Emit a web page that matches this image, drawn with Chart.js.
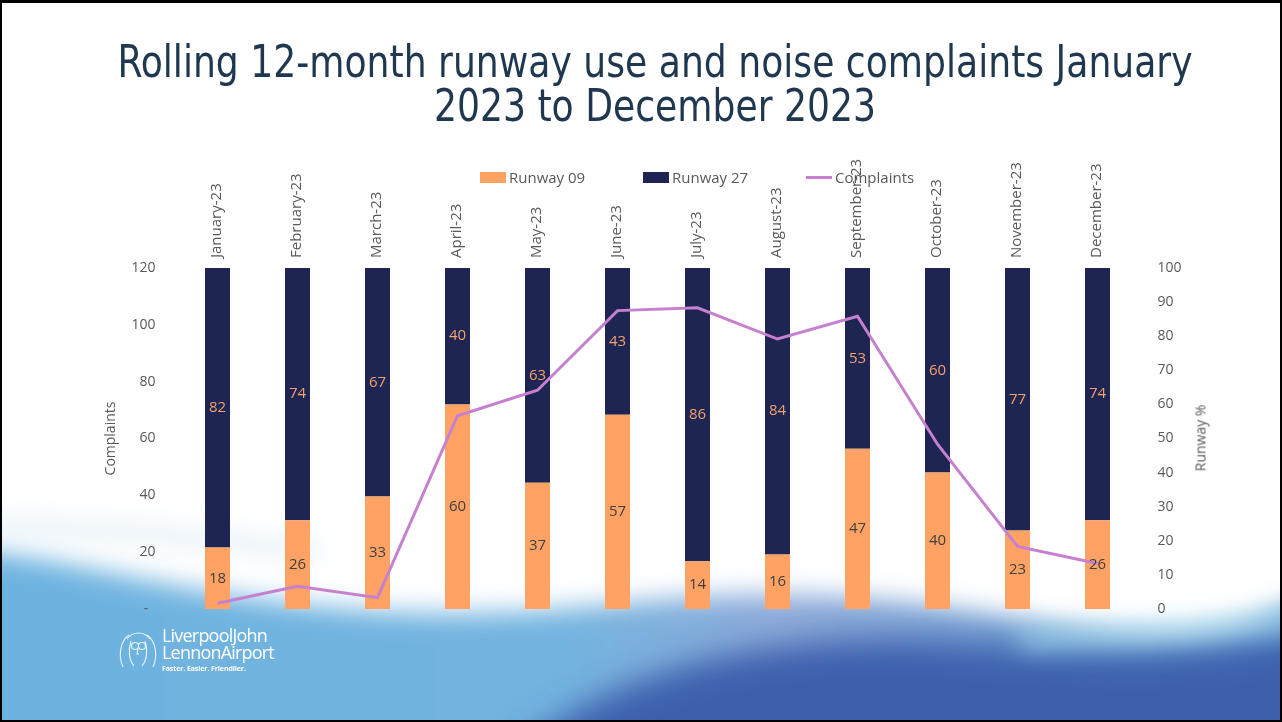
<!DOCTYPE html>
<html>
<head>
<meta charset="utf-8">
<script src="https://cdn.jsdelivr.net/npm/chart.js@4.4.1/dist/chart.umd.min.js"></script>
<style>
  html, body { margin: 0; padding: 0; }
  body { width: 1282px; height: 722px; position: relative; overflow: hidden; background: #fff; font-family: "Open Sans", sans-serif; }
  #wave { position: absolute; left: 0; top: 0; }
  #frame { position: absolute; inset: 0; border: 2px solid #000; border-top-width: 3px; box-sizing: border-box; pointer-events: none; z-index: 5; }
  #title {
    position: absolute; left: 0; width: 1310px; top: 40px; margin: 0; text-align: center;
    font-family: "Liberation Sans Narrow", "DejaVu Sans Condensed", sans-serif; font-weight: normal;
    font-size: 44px; line-height: 44px; color: #1f3850;
    transform: scaleX(0.913); transform-origin: 655px 0;
  }
  #runwayChart { position: absolute; left: 0; top: 0; }
  #legend { position: absolute; left: 480px; top: 167px; display: flex; font-size: 15px; color: #595959; }
  #legend .item { display: flex; align-items: center; width: 163px; white-space: nowrap; }
  #legend .swatch { width: 26px; height: 11px; margin-right: 3px; }
  #legend .line { width: 26px; height: 3px; margin-right: 3px; }
  #y1Title { position: absolute; left: 1200px; top: 438px; transform: translate(-50%, -50%) rotate(-90deg); font-size: 14px; color: #595959; white-space: nowrap; }
  #logo { position: absolute; left: 162px; top: 627px; color: #fff; }
  #logo .l1 { font-size: 18px; line-height: 17px; letter-spacing: -0.8px; }
  #logo .l3 { font-size: 7px; font-weight: bold; margin-top: 3px; letter-spacing: -0.1px; }
  #face { position: absolute; left: 116px; top: 630px; }
</style>
</head>
<body>
<svg id="wave" width="1282" height="722">
  <defs>
    <linearGradient id="seaGrad" x1="0" x2="1" y1="0" y2="0">
      <stop offset="0" stop-color="#6cb3e0"/>
      <stop offset="0.45" stop-color="#73b3df"/>
      <stop offset="0.6" stop-color="#8eaad9"/>
      <stop offset="0.8" stop-color="#6f9ed2"/>
      <stop offset="1" stop-color="#5e93cd"/>
    </linearGradient>
    <filter id="soft" filterUnits="userSpaceOnUse" x="-200" y="300" width="1700" height="600"><feGaussianBlur stdDeviation="13"/></filter>
    <filter id="softer" filterUnits="userSpaceOnUse" x="-200" y="300" width="1700" height="600"><feGaussianBlur stdDeviation="16"/></filter>
  </defs>
  <path d="M-60 548 C 60 552, 160 595, 360 610 S 650 588, 820 596 S 1080 640, 1180 634 S 1270 600, 1340 594 L1340 780 L-60 780 Z" fill="url(#seaGrad)" filter="url(#soft)"/>
  <path d="M-40 528 C 60 522, 200 538, 320 552" stroke="#d4e9f5" stroke-width="10" fill="none" filter="url(#soft)"/>
  <path d="M470 800 C 570 672, 760 630, 940 642 S 1170 662, 1340 628 L1340 800 Z" fill="#3d60ad" filter="url(#softer)"/>
  <path d="M1020 640 C 1100 632, 1190 640, 1340 610" stroke="#a6e0f0" stroke-width="14" fill="none" filter="url(#soft)"/>
</svg>
<h1 id="title">Rolling 12-month runway use and noise complaints January<br>2023 to December 2023</h1>
<canvas id="runwayChart" width="1282" height="722"></canvas>
<div id="legend"></div>
<div id="y1Title">Runway %</div>
<svg id="face" width="44" height="40" fill="none" stroke="#fff" stroke-width="1.1" stroke-opacity="0.85">
  <path d="M13 5 C 4 11, 2 26, 7 37"/>
  <path d="M31 5 C 40 11, 42 26, 37 37"/>
  <path d="M11 9 C 17 1, 28 1, 34 9"/>
  <path d="M15 11 C 12 20, 13 30, 18 36"/>
  <path d="M29 11 C 32 20, 31 30, 26 36"/>
  <circle cx="19" cy="16" r="3.5"/>
  <circle cx="26" cy="16" r="3.5"/>
  <path d="M22 19 L 21 24 L 23 24"/>
</svg>
<div id="logo"><div class="l1">LiverpoolJohn</div><div class="l1">LennonAirport</div><div class="l3">Faster. Easier. Friendlier.</div></div>
<div id="frame"></div>
<script>
const months = ['January-23', 'February-23', 'March-23', 'April-23', 'May-23', 'June-23', 'July-23', 'August-23', 'September-23', 'October-23', 'November-23', 'December-23'];
const runway09 = [18, 26, 33, 60, 37, 57, 14, 16, 47, 40, 23, 26];
const runway27 = [82, 74, 67, 40, 63, 43, 86, 84, 53, 60, 77, 74];
const complaints = [2, 8, 4, 68, 77, 105, 106, 95, 103, 58, 22, 16];
const complaintTicks = [0, 20, 40, 60, 80, 100, 120];
const runwayTicks = [0, 10, 20, 30, 40, 50, 60, 70, 80, 90, 100];

const ORANGE = '#ffa264';
const NAVY = '#1f2552';
const PURPLE = '#c77fd0';
const GREY = '#595959';

Chart.defaults.font.family = '"Open Sans", sans-serif';
Chart.defaults.font.size = 14;
Chart.defaults.color = GREY;

// value labels in the middle of each bar segment
const segmentLabels = {
  id: 'segmentLabels',
  afterDatasetsDraw(chart) {
    const ctx = chart.ctx;
    ctx.save();
    ctx.font = '15px "Open Sans", sans-serif';
    ctx.textAlign = 'center';
    ctx.textBaseline = 'middle';
    chart.data.datasets.forEach((ds, i) => {
      if (ds.type !== 'bar') return;
      const meta = chart.getDatasetMeta(i);
      ctx.fillStyle = ds.labelColor;
      meta.data.forEach((bar, j) => {
        const { x, y, base } = bar.getProps(['x', 'y', 'base'], true);
        ctx.fillText(ds.data[j], x, (y + base) / 2);
      });
    });
    ctx.restore();
  }
};

const chart = new Chart(document.getElementById('runwayChart'), {
  data: {
    labels: months,
    datasets: [
      { type: 'line', label: 'Complaints', data: complaints, yAxisID: 'y', borderColor: PURPLE, backgroundColor: PURPLE, borderWidth: 3, pointRadius: 0, tension: 0, order: 0 },
      { type: 'bar', label: 'Runway 09', data: runway09, yAxisID: 'y1', backgroundColor: ORANGE, labelColor: '#404040', order: 1 },
      { type: 'bar', label: 'Runway 27', data: runway27, yAxisID: 'y1', backgroundColor: NAVY, labelColor: '#f2a06c', order: 1 }
    ]
  },
  options: {
    responsive: false,
    animation: false,
    layout: { padding: { left: 99, right: 95, top: 150, bottom: 113 } },
    datasets: { bar: { categoryPercentage: 0.5, barPercentage: 0.625 } },
    plugins: { legend: { display: false }, tooltip: { enabled: false } },
    scales: {
      x: {
        position: 'top', stacked: true,
        grid: { display: false, drawTicks: false }, border: { display: false },
        ticks: { minRotation: 90, maxRotation: 90, padding: 10, labelOffset: 17, autoSkip: false, font: { size: 15 } },
        afterFit(s) { s.height = 118; }
      },
      y: {
        position: 'left', min: 0, max: 120,
        grid: { display: false, drawTicks: false }, border: { display: false },
        afterBuildTicks(s) { s.ticks = complaintTicks.map(v => ({ value: v })); },
        ticks: { padding: 22, callback: v => v === 0 ? '-  ' : v },
        title: { display: true, text: 'Complaints', color: GREY, font: { size: 14 } },
        afterFit(s) { s.width = 78.5; }
      },
      y1: {
        position: 'right', min: 0, max: 100, stacked: true,
        grid: { display: false, drawTicks: false }, border: { display: false },
        afterBuildTicks(s) { s.ticks = runwayTicks.map(v => ({ value: v })); },
        ticks: { padding: 20 },
        afterFit(s) { s.width = 49.5; }
      }
    }
  },
  plugins: [segmentLabels]
});

// html legend in the order of the reference
const legendOrder = [1, 2, 0];
document.getElementById('legend').innerHTML = legendOrder.map(i => {
  const ds = chart.data.datasets[i];
  const mark = ds.type === 'line'
    ? `<span class="line" style="background:${ds.borderColor}"></span>`
    : `<span class="swatch" style="background:${ds.backgroundColor}"></span>`;
  return `<span class="item">${mark}${ds.label}</span>`;
}).join('');
</script>
</body>
</html>
